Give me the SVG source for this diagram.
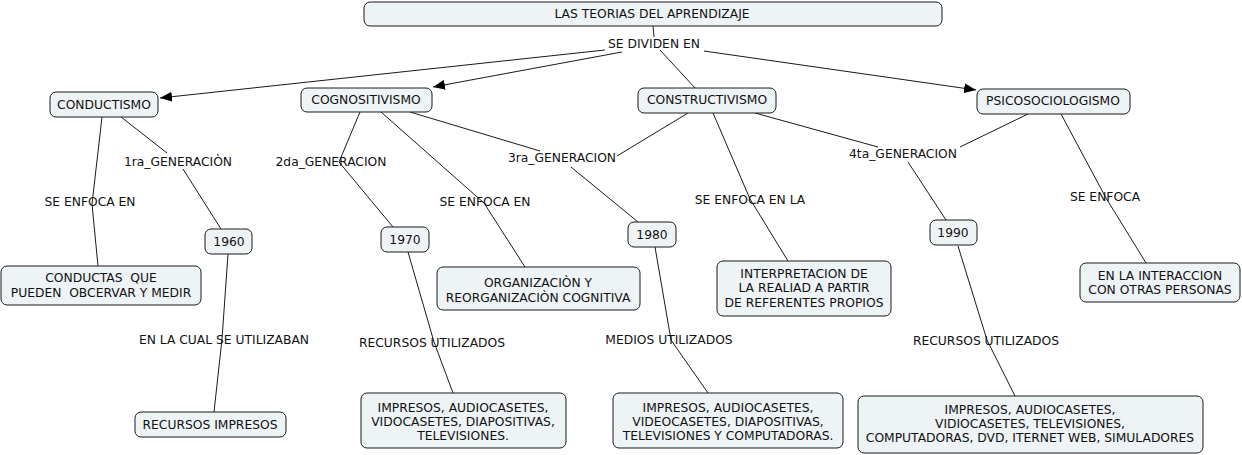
<svg xmlns="http://www.w3.org/2000/svg" width="1242" height="455" viewBox="0 0 1242 455">
<style>
text{font-family:"DejaVu Sans",Verdana,sans-serif;font-size:12.3px;fill:#111;text-anchor:middle;white-space:pre}
.n{fill:#eef3f6;stroke:#1a1a1a;stroke-width:1}
.c{fill:none;stroke:#1a1a1a;stroke-width:1}
</style>
<defs>
<marker id="ah" viewBox="0 0 12 10" refX="12" refY="5" markerWidth="12" markerHeight="10" markerUnits="userSpaceOnUse" orient="auto"><path d="M0,0L12,5L0,10z" fill="#000"/></marker>
</defs>
<rect width="1242" height="455" fill="#fff"/>
<g id="connectors">
<path class="c" d="M653,26L654,37"/>
<path class="c" d="M605,50L160,98" marker-end="url(#ah)"/>
<path class="c" d="M622,52L433,87" marker-end="url(#ah)"/>
<path class="c" d="M660,50L695,88"/>
<path class="c" d="M704,51L976,90" marker-end="url(#ah)"/>
<path class="c" d="M102,117L92,204L98,266"/>
<path class="c" d="M121,117L167,153M183,169L221,229"/>
<path class="c" d="M228,254L222,339L214,412"/>
<path class="c" d="M360,112L339,162L393,227"/>
<path class="c" d="M381,112L484,203L525,267"/>
<path class="c" d="M410,112L540,151M571,167L638,222"/>
<path class="c" d="M688,113L617,156"/>
<path class="c" d="M713,113L750,199L788,261"/>
<path class="c" d="M755,113L878,147"/>
<path class="c" d="M1028,114L960,147"/>
<path class="c" d="M908,162L946,220"/>
<path class="c" d="M1061,114L1106,198L1146,263"/>
<path class="c" d="M655,247L671,340L708,393"/>
<path class="c" d="M408,252L434,342L453,393"/>
<path class="c" d="M958,246L987,340L1015,396"/>
</g>
<g id="link-labels">
<text x="654" y="48">SE DIVIDEN EN</text>
<text x="178" y="166">1ra_GENERACIÒN</text>
<text x="331" y="166">2da_GENERACION</text>
<text x="90" y="206">SE ENFOCA EN</text>
<text x="485" y="206">SE ENFOCA EN</text>
<text x="562" y="162">3ra_GENERACION</text>
<text x="750" y="204">SE ENFOCA EN LA</text>
<text x="903" y="158">4ta_GENERACION</text>
<text x="1105" y="201">SE ENFOCA</text>
<text x="224" y="344">EN LA CUAL SE UTILIZABAN</text>
<text x="432" y="347">RECURSOS UTILIZADOS</text>
<text x="669" y="344">MEDIOS UTILIZADOS</text>
<text x="986" y="345">RECURSOS UTILIZADOS</text>
</g>
<g id="title"><rect class="n" x="364" y="2" width="578" height="24" rx="6"/><text x="652" y="18">LAS TEORIAS DEL APRENDIZAJE</text></g>
<g id="conductismo"><rect class="n" x="50" y="92" width="108" height="25" rx="6"/><text x="104" y="109">CONDUCTISMO</text></g>
<g id="cognositivismo"><rect class="n" x="301" y="88" width="131" height="24" rx="6"/><text x="366" y="104">COGNOSITIVISMO</text></g>
<g id="constructivismo"><rect class="n" x="638" y="88" width="138" height="25" rx="6"/><text x="707" y="104">CONSTRUCTIVISMO</text></g>
<g id="psicosociologismo"><rect class="n" x="977" y="89" width="153" height="25" rx="6"/><text x="1053" y="105">PSICOSOCIOLOGISMO</text></g>
<g id="n1960"><rect class="n" x="205" y="229" width="47" height="25" rx="6"/><text x="229" y="246">1960</text></g>
<g id="n1970"><rect class="n" x="381" y="227" width="48" height="25" rx="6"/><text x="405" y="244">1970</text></g>
<g id="n1980"><rect class="n" x="628" y="222" width="48" height="25" rx="6"/><text x="652" y="239">1980</text></g>
<g id="n1990"><rect class="n" x="930" y="220" width="47" height="25" rx="6"/><text x="953" y="237">1990</text></g>
<g id="conductas"><rect class="n" x="1" y="266" width="200" height="39" rx="6"/><text x="101" y="282">CONDUCTAS  QUE</text><text x="101" y="297">PUEDEN  OBCERVAR Y MEDIR</text></g>
<g id="organizacion"><rect class="n" x="437" y="267" width="203" height="43" rx="6"/><text x="538" y="287">ORGANIZACIÒN Y</text><text x="538" y="302">REORGANIZACIÒN COGNITIVA</text></g>
<g id="interpretacion"><rect class="n" x="717" y="261" width="174" height="55" rx="6"/><text x="804" y="278">INTERPRETACION DE</text><text x="804" y="292">LA REALIAD A PARTIR</text><text x="804" y="307">DE REFERENTES PROPIOS</text></g>
<g id="interaccion"><rect class="n" x="1080" y="263" width="160" height="39" rx="6"/><text x="1160" y="280">EN LA INTERACCION</text><text x="1160" y="294">CON OTRAS PERSONAS</text></g>
<g id="recursos-impresos"><rect class="n" x="135" y="412" width="151" height="25" rx="6"/><text x="210" y="429">RECURSOS IMPRESOS</text></g>
<g id="recursos1970"><rect class="n" x="361" y="393" width="205" height="55" rx="6"/><text x="463" y="412">IMPRESOS, AUDIOCASETES,</text><text x="463" y="426">VIDOCASETES, DIAPOSITIVAS,</text><text x="463" y="440">TELEVISIONES.</text></g>
<g id="medios1980"><rect class="n" x="613" y="393" width="230" height="55" rx="6"/><text x="728" y="412">IMPRESOS, AUDIOCASETES,</text><text x="728" y="426">VIDEOCASETES, DIAPOSITIVAS,</text><text x="728" y="440">TELEVISIONES Y COMPUTADORAS.</text></g>
<g id="recursos1990"><rect class="n" x="858" y="396" width="345" height="57" rx="6"/><text x="1030" y="414">IMPRESOS, AUDIOCASETES,</text><text x="1030" y="428">VIDIOCASETES, TELEVISIONES,</text><text x="1030" y="442">COMPUTADORAS, DVD, ITERNET WEB, SIMULADORES</text></g>
</svg>
